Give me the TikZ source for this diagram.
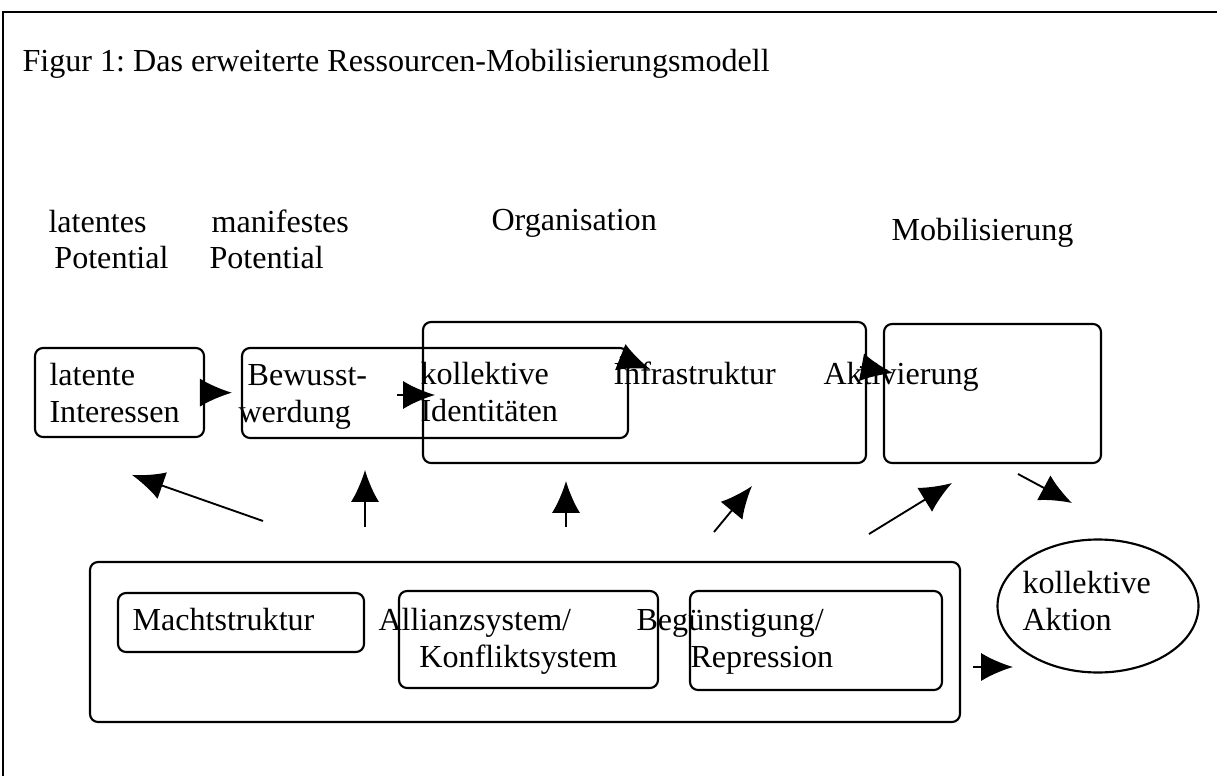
\documentclass[tikz,border=0pt]{standalone}
\usepackage{fontspec}
\setmainfont{Liberation Serif}
\usetikzlibrary{arrows.meta,shapes.geometric,fit}
\newcommand{\pxu}{0.01314cm}
\frenchspacing

\begin{document}
\begin{tikzpicture}[
  x=0.01314cm, y=-0.01314cm,
  box/.style={draw, rectangle, rounded corners=3pt, line width=0.8pt, inner sep=0pt},
  oval/.style={draw, ellipse, line width=0.8pt, inner sep=0pt},
  lbl/.style={inner sep=0pt, anchor=base west, align=left, font=\fontsize{12}{13.8}\selectfont},
  arr/.style={-{Latex[length=0.42cm, width=0.37cm]}, line width=0.7pt}
]
  \useasboundingbox (0,0) rectangle (1217,776);
  \draw[line width=0.8pt] (3,776) -- (3,12) -- (1217,12);

  \node[box, fit={(35,348)(204,437)}]  (lat)    {};
  \node[box, fit={(242,348)(628,438)}] (bew)    {};
  \node[box, fit={(423,322)(866,463)}] (org)    {};
  \node[box, fit={(884,324)(1101,463)}] (mob)   {};
  \node[box, fit={(90,562)(960,722)}]  (umwelt) {};
  \node[box, fit={(118,593)(364,652)}] (macht)  {};
  \node[box, fit={(399,591)(658,688)}] (allianz) {};
  \node[box, fit={(690,591)(942,690)}] (beg)    {};
  \node[oval, minimum width=201*\pxu, minimum height=133*\pxu] (aktion) at (1098,606) {};

  \node[lbl] (title)   at (22,72)   {Figur 1: Das erweiterte Ressourcen-Mobilisierungsmodell};
  \node[lbl] (latpot)  at (48,269)  {latentes\\\hspace*{2.2pt}Potential};
  \node[lbl] (manpot)  at (209,269) {\hspace*{0.8pt}manifestes\\Potential};
  \node[lbl] (orgtxt)  at (491,231) {Organisation};
  \node[lbl] (mobtxt)  at (891,240) {Mobilisierung};
  \node[lbl] (lattxt)  at (49,422)  {latente\\Interessen};
  \node[lbl] (bewtxt)  at (238,422) {\hspace*{3.4pt}Bewusst-\\werdung};
  \node[lbl] (kolltxt) at (420,421) {kollektive\\Identitäten};
  \node[lbl] (infra)   at (613,384) {Infrastruktur};
  \node[lbl] (aktiv)   at (823,384) {Aktivierung};
  \node[lbl] (machttxt) at (132,630) {Machtstruktur};
  \node[lbl] (alltxt)  at (378,667) {Allianzsystem/\\\hspace*{15.3pt}Konfliktsystem};
  \node[lbl] (begtxt)  at (636,667) {Begünstigung/\\\hspace*{20.2pt}Repression};
  \node[lbl] (akttxt)  at (1022,630) {kollektive\\Aktion};

  \coordinate (k1) at (397,395);  \coordinate (k2) at (435,395);
  \coordinate (i1) at (620,357);  \coordinate (i2) at (650,369);
  \coordinate (v1) at (860,367);  \coordinate (v2) at (893,373);
  \coordinate (u1) at (263,521);  \coordinate (u2) at (132,475);
  \coordinate (w1) at (365,527);  \coordinate (w2) at (365,470);
  \coordinate (o1) at (566,527);  \coordinate (o2) at (566,481);
  \coordinate (r1) at (714,532);  \coordinate (r2) at (752,486);
  \coordinate (m1) at (869,534);  \coordinate (m2) at (952,483);
  \coordinate (x1) at (1018,474); \coordinate (x2) at (1072,503);
  \coordinate (a1) at (973,667);  \coordinate (a2) at (1013,667);

  \draw[arr, shorten >=9*\pxu] (lat) -- (bew);
  \draw[arr] (k1) -- (k2);
  \draw[arr] (i1) -- (i2);
  \draw[arr] (v1) -- (v2);
  \draw[arr] (u1) -- (u2);
  \draw[arr] (w1) -- (w2);
  \draw[arr] (o1) -- (o2);
  \draw[arr] (r1) -- (r2);
  \draw[arr] (m1) -- (m2);
  \draw[arr] (x1) -- (x2);
  \draw[arr] (a1) -- (a2);
\end{tikzpicture}
\end{document}
